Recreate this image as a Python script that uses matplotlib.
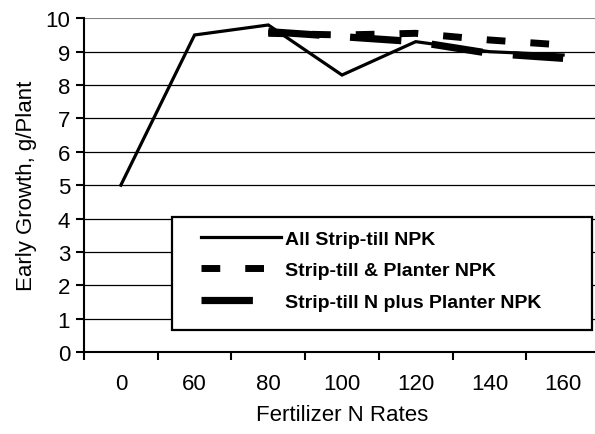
import numpy as np
import matplotlib
matplotlib.use('Agg')
import matplotlib.pyplot as plt
from matplotlib.patches import Rectangle

plt.rcParams['font.family'] = ['Liberation Sans', 'DejaVu Sans']
plt.rcParams['lines.scale_dashes'] = False

# ==================== data ====================
categories = ['0', '60', '80', '100', '120', '140', '160']
all_strip = [5.0, 9.5, 9.8, 8.3, 9.3, 9.0, 8.9]
strip_planter = [np.nan, np.nan, 9.55, 9.5, 9.55, 9.35, 9.2]
strip_n_planter = [np.nan, np.nan, 9.6, 9.45, 9.3, 8.95, 8.8]
y_ticks = list(range(0, 11))

labels = ['All Strip-till NPK', 'Strip-till & Planter NPK',
          'Strip-till N plus Planter NPK']

# ==================== figure ====================
W, H = 595, 435
fig = plt.figure(figsize=(W / 100, H / 100), dpi=100)
ax = fig.add_axes([84 / W, 1 - 353 / H, 516 / W, (353 - 19.3) / H])

x = np.arange(len(categories))

l1, = ax.plot(x, all_strip, color='black', lw=2.3, solid_joinstyle='miter')
l2, = ax.plot(x, strip_planter, color='black', lw=5, dashes=(13.5, 18),
              dash_capstyle='butt')
l3, = ax.plot(x, strip_n_planter, color='black', lw=5.2, dashes=(37, 22),
              dash_capstyle='butt')

ax.set_xlim(-0.5, len(categories) - 0.5)
ax.set_ylim(0, 10)

# category ticks at boundaries, labels centred
ax.set_xticks(np.arange(-0.5, len(categories)), [''] * (len(categories) + 1))
ax.set_xticks(x, categories, minor=True)
ax.tick_params(axis='x', which='major', length=6, width=1.5, direction='out')
ax.tick_params(axis='x', which='minor', length=0, pad=15, labelsize=16)
ax.set_yticks(y_ticks)
ax.tick_params(axis='y', length=6, width=1.5, direction='out', pad=4,
               labelsize=16)

ax.yaxis.grid(True, color='black', lw=0.9)
ax.get_ygridlines()[-1].set_color('#808080')
ax.get_ygridlines()[-1].set_linewidth(1.5)
ax.set_axisbelow(True)

for s in ['top', 'right']:
    ax.spines[s].set_visible(False)
ax.spines['left'].set_linewidth(1.5)
ax.spines['bottom'].set_linewidth(1.5)

ax.set_xlabel('Fertilizer N Rates', fontsize=16, labelpad=7)
ax.set_ylabel('Early Growth, g/Plant', fontsize=16, labelpad=6)

# legend box (white, black border) with a frameless legend on top
fig.add_artist(Rectangle((172 / W, 1 - 331 / H), 420 / W, 113 / H,
                         transform=fig.transFigure, facecolor='white',
                         edgecolor='black', lw=1.6, zorder=2))
leg = fig.legend([l1, l2, l3], labels, loc='upper left',
                 bbox_to_anchor=(201 / W, 1 - 231 / H), frameon=False,
                 prop={'weight': 'bold', 'size': 14},
                 handlelength=4.1, handletextpad=0.22, labelspacing=0.72,
                 borderpad=0, borderaxespad=0)
leg.set_zorder(3)

fig.savefig('out.png', dpi=100)
